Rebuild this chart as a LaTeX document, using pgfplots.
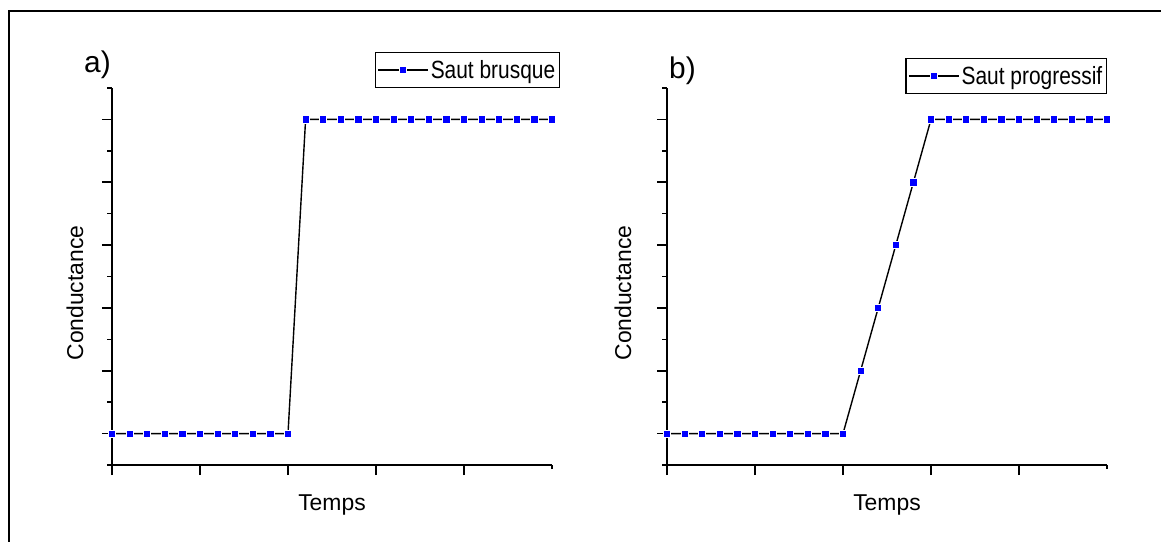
\documentclass[border=0pt]{standalone}
\usepackage{pgfplots}
\pgfplotsset{compat=1.18}
\usepackage{fontspec}
\setmainfont{Liberation Sans}
\newfontfamily\legfont[FakeStretch=0.84]{Liberation Sans}

\pgfplotsset{
  panel/.style={
    scale only axis, width=440bp, height=377bp, anchor=south west,
    xmin=0, xmax=25, ymin=-0.5, ymax=5.5,
    axis lines*=left, axis line style={line width=1.6bp},
    xtick={0,5,...,20}, xticklabels={}, ytick={0,...,5}, yticklabels={},
    minor ytick={-0.5,0.5,...,5.5},
    tick align=outside, major tick length=10bp, minor tick length=5bp,
    tick style={line width=1.6bp, black},
    extra x ticks={25}, extra x tick labels={}, extra x tick style={major tick length=4bp},
    clip=false,
    legend cell align=left,
    legend style={draw=black, line width=1.4bp, font=\legfont\fontsize{25}{27}\selectfont,
      inner xsep=2bp, inner ysep=5.5bp, anchor=north east,
      nodes={inner xsep=2bp, inner ysep=2bp}},
  },
  ser/.style={black, line width=1.4bp, mark=square*, mark size=3.6bp,
    mark options={fill=blue, draw=white, line width=0.7bp},
    legend image code/.code={\draw[##1, mark repeat=2, mark phase=2] plot coordinates {(0bp,0bp) (25bp,0bp) (50bp,0bp)};}},
}

\begin{document}
\begin{tikzpicture}
\useasboundingbox (0,0) rectangle (1161bp,-542bp);
\draw[line width=2bp] (9bp,-542bp) -- (9bp,-11bp) -- (1161bp,-11bp);

\begin{axis}[panel, at={(112bp,-465bp)}, legend style={at={(1.018,1.0955)}}]
\addplot[ser] coordinates {(0,0) (1,0) (2,0) (3,0) (4,0) (5,0) (6,0) (7,0) (8,0) (9,0) (10,0)
  (11,5) (12,5) (13,5) (14,5) (15,5) (16,5) (17,5) (18,5) (19,5) (20,5) (21,5) (22,5) (23,5) (24,5) (25,5)};
\addlegendentry{Saut brusque}
\end{axis}

\begin{axis}[panel, at={(667bp,-465bp)}, legend style={at={(1.0,1.0796)}}]
\addplot[ser] coordinates {(0,0) (1,0) (2,0) (3,0) (4,0) (5,0) (6,0) (7,0) (8,0) (9,0) (10,0)
  (11,1) (12,2) (13,3) (14,4) (15,5) (16,5) (17,5) (18,5) (19,5) (20,5) (21,5) (22,5) (23,5) (24,5) (25,5)};
\addlegendentry{Saut progressif}
\end{axis}

\node[anchor=base west, font=\fontsize{30}{32}\selectfont, inner sep=0pt] at (84bp,-72bp) {a)};
\node[anchor=base west, font=\fontsize{30}{32}\selectfont, inner sep=0pt] at (669bp,-78bp) {b)};
\node[anchor=base, font=\fontsize{23}{25}\selectfont, inner sep=0pt] at (332bp,-510bp) {Temps};
\node[anchor=base, font=\fontsize{23}{25}\selectfont, inner sep=0pt] at (887bp,-510bp) {Temps};
\node[anchor=base, rotate=90, font=\fontsize{23}{25}\selectfont, inner sep=0pt] at (83bp,-293bp) {Conductance};
\node[anchor=base, rotate=90, font=\fontsize{23}{25}\selectfont, inner sep=0pt] at (631bp,-293bp) {Conductance};
\end{tikzpicture}
\end{document}
